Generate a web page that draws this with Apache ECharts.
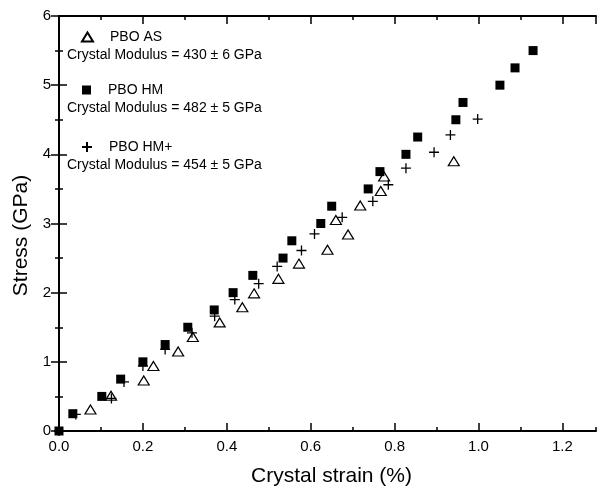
<!DOCTYPE html>
<html>
<head>
<meta charset="utf-8">
<script src="https://cdn.jsdelivr.net/npm/echarts@6/dist/echarts.min.js"></script>
<style>html,body{margin:0;padding:0;background:#fff;}#c{width:600px;height:492px;}</style>
</head>
<body>
<div id="c"></div>
<script>
// PBO AS (open triangles)
var asStrain = [0.075, 0.124, 0.202, 0.225, 0.284, 0.319, 0.383, 0.437, 0.465, 0.523, 0.572, 0.640, 0.689, 0.660, 0.718, 0.767, 0.775, 0.941];
var asStress = [0.31, 0.51, 0.73, 0.94, 1.15, 1.36, 1.57, 1.79, 1.99, 2.20, 2.42, 2.62, 2.84, 3.05, 3.26, 3.47, 3.68, 3.90];
// PBO HM (filled squares)
var hmStrain = [0, 0.033, 0.102, 0.147, 0.200, 0.253, 0.307, 0.370, 0.415, 0.462, 0.534, 0.555, 0.624, 0.650, 0.737, 0.765, 0.827, 0.855, 0.946, 0.963, 1.051, 1.087, 1.130];
var hmStress = [0, 0.25, 0.50, 0.75, 1.00, 1.25, 1.50, 1.75, 2.00, 2.25, 2.50, 2.75, 3.00, 3.25, 3.50, 3.75, 4.00, 4.25, 4.50, 4.75, 5.00, 5.25, 5.50];
// PBO HM+ (crosses)
var hmpStrain = [0, 0.040, 0.125, 0.155, 0.200, 0.253, 0.317, 0.371, 0.419, 0.476, 0.520, 0.578, 0.609, 0.675, 0.748, 0.785, 0.827, 0.894, 0.933, 0.998];
var hmpStress = [0, 0.24, 0.47, 0.71, 0.94, 1.18, 1.42, 1.66, 1.90, 2.13, 2.38, 2.61, 2.85, 3.09, 3.32, 3.56, 3.80, 4.03, 4.28, 4.51];

var seriesNames = ['PBO AS', 'PBO HM', 'PBO HM+'];
var modulusTexts = ['Crystal Modulus = 430 \u00b1 6 GPa', 'Crystal Modulus = 482 \u00b1 5 GPa', 'Crystal Modulus = 454 \u00b1 5 GPa'];

function pairs(xs, ys) { return xs.map(function (x, i) { return [x, ys[i]]; }); }

var FONT = "'Liberation Sans', Arial, Helvetica, sans-serif";
var crossPath = 'path://M5,0 L5,10 M0,5 L10,5';

var chart = echarts.init(document.getElementById('c'), null, { renderer: 'canvas' });

function xAx(pos, major, labels) {
  return {
    type: 'value', position: pos, min: 0, max: 1.28, interval: major ? 0.2 : 0.1,
    axisLine: { show: major, lineStyle: { color: '#000', width: 2 } },
    axisTick: { show: true, inside: true, length: major ? 8 : 4, lineStyle: { color: '#000', width: 1.5 } },
    axisLabel: {
      show: labels, showMaxLabel: false, margin: 8, color: '#000', fontSize: 15, fontFamily: FONT,
      formatter: function (v) { return v.toFixed(1); }
    },
    splitLine: { show: false },
    name: labels ? 'Crystal strain (%)' : '',
    nameLocation: 'middle', nameGap: 35,
    nameTextStyle: { color: '#000', fontSize: 21, fontFamily: FONT, padding: [0, 0, 0, 8] }
  };
}
function yAx(pos, labels) {
  return {
    type: 'value', position: pos, min: 0, max: 6, interval: 1,
    axisLine: { show: true, lineStyle: { color: '#000', width: 2 } },
    axisTick: { show: true, inside: true, length: 8, lineStyle: { color: '#000', width: 1.5 } },
    minorTick: { show: true, splitNumber: 2, length: 4, lineStyle: { color: '#000', width: 1.5 } },
    axisLabel: { show: labels, margin: 8, color: '#000', fontSize: 15, fontFamily: FONT },
    splitLine: { show: false },
    name: labels ? 'Stress (GPa)' : '',
    nameLocation: 'middle', nameGap: 24,
    nameTextStyle: { color: '#000', fontSize: 21, fontFamily: FONT, padding: [0, 24, 0, 0] }
  };
}

function legendAt(name, left, top, w, h) {
  return {
    data: [name], left: left, top: top, padding: 0,
    itemWidth: w, itemHeight: h, selectedMode: false,
    textStyle: { color: '#000', fontSize: 14, fontFamily: FONT, padding: [0, 0, 0, 12] }
  };
}

var option = {
  backgroundColor: '#fff',
  animation: false,
  grid: { left: 59, right: 4, top: 16, bottom: 56 },
  xAxis: [xAx('bottom', true, true), xAx('bottom', false, false), xAx('top', true, false), xAx('top', false, false)],
  yAxis: [yAx('left', true), yAx('right', false)],
  legend: [
    legendAt(seriesNames[0], 81, 30, 11, 9),
    legendAt(seriesNames[1], 82, 83, 9, 9),
    legendAt(seriesNames[2], 81, 140, 10, 10)
  ],
  graphic: modulusTexts.map(function (t, i) {
    return {
      type: 'text', x: 67, y: [55, 108, 165][i],
      style: { text: t, font: '14px ' + FONT, fill: '#000', verticalAlign: 'middle', align: 'left' }
    };
  }),
  series: [
    {
      name: seriesNames[0], type: 'scatter', data: pairs(asStrain, asStress),
      symbol: 'triangle', symbolSize: [11, 9],
      itemStyle: { color: 'rgba(255,255,255,0)', borderColor: '#000', borderWidth: 1.2, opacity: 1 }
    },
    {
      name: seriesNames[1], type: 'scatter', data: pairs(hmStrain, hmStress),
      symbol: 'rect', symbolSize: 9,
      itemStyle: { color: '#000', borderColor: '#000', borderWidth: 0, opacity: 1 }
    },
    {
      name: seriesNames[2], type: 'scatter', data: pairs(hmpStrain, hmpStress),
      symbol: crossPath, symbolSize: 10,
      itemStyle: { color: '#000', borderColor: '#000', borderWidth: 1.3, opacity: 1 }
    }
  ]
};
chart.setOption(option);
</script>
</body>
</html>
